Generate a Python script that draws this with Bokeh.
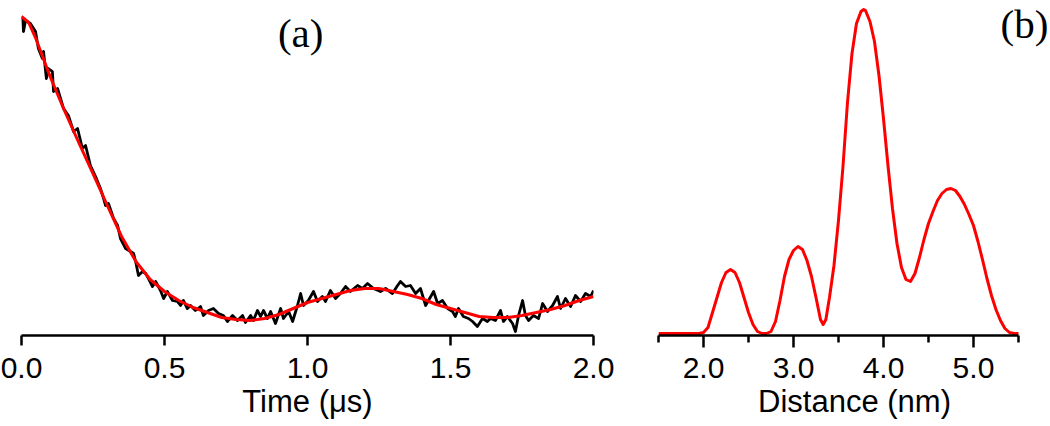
from bokeh.plotting import figure
from bokeh.layouts import row
from bokeh.models import Range1d, FixedTicker, Label, NumeralTickFormatter
from bokeh.embed import file_html
from bokeh.resources import INLINE

# ---- panel (a): time-domain trace (arbitrary units) ----
time_us = [0.000, 0.003, 0.007, 0.014, 0.031, 0.049, 0.059, 0.073, 0.077, 0.087,
           0.094, 0.108, 0.112, 0.126, 0.147, 0.164, 0.182, 0.196, 0.213, 0.224,
           0.241, 0.259, 0.276, 0.287, 0.294, 0.304, 0.322, 0.336, 0.346, 0.364,
           0.381, 0.392, 0.399, 0.409, 0.423, 0.434, 0.444, 0.458, 0.469, 0.486,
           0.497, 0.510, 0.528, 0.545, 0.556, 0.566, 0.580, 0.591, 0.608, 0.626,
           0.636, 0.654, 0.671, 0.689, 0.706, 0.720, 0.738, 0.755, 0.773, 0.783,
           0.801, 0.811, 0.825, 0.836, 0.846, 0.860, 0.871, 0.888, 0.906, 0.916,
           0.934, 0.948, 0.965, 0.976, 0.986, 1.003, 1.021, 1.035, 1.052, 1.063,
           1.080, 1.098, 1.115, 1.133, 1.150, 1.175, 1.192, 1.210, 1.231, 1.255,
           1.273, 1.297, 1.315, 1.325, 1.343, 1.360, 1.378, 1.395, 1.413, 1.423,
           1.441, 1.455, 1.472, 1.490, 1.507, 1.517, 1.528, 1.545, 1.563, 1.577,
           1.594, 1.612, 1.629, 1.640, 1.657, 1.675, 1.685, 1.699, 1.717, 1.727,
           1.738, 1.752, 1.762, 1.773, 1.790, 1.808, 1.822, 1.839, 1.857, 1.874,
           1.885, 1.902, 1.920, 1.937, 1.955, 1.972, 1.990, 2.000]
signal = [320, 318, 305, 316, 313, 305, 288, 278, 285, 258,
          268, 265, 245, 248, 228, 221, 205, 208, 188, 191,
          171, 160, 148, 138, 131, 133, 118, 111, 98, 88,
          85, 83, 75, 61, 65, 63, 58, 50, 55, 46,
          38, 45, 36, 35, 31, 36, 28, 31, 26, 30,
          21, 26, 28, 23, 21, 15, 21, 16, 21, 14,
          21, 16, 26, 20, 26, 18, 25, 13, 28, 18,
          25, 15, 31, 43, 31, 36, 45, 35, 40, 35,
          46, 38, 43, 50, 45, 51, 48, 53, 48, 45,
          48, 43, 51, 55, 50, 51, 43, 48, 31, 36,
          45, 33, 36, 28, 25, 20, 28, 20, 18, 15,
          10, 18, 15, 18, 16, 26, 15, 20, 13, 5,
          21, 36, 21, 16, 21, 18, 33, 25, 31, 40,
          28, 38, 30, 41, 35, 43, 40, 46]

fit_time_us = [0.000, 0.025, 0.05, 0.10, 0.15, 0.20, 0.25, 0.30, 0.35, 0.40, 0.45,
               0.50, 0.55, 0.60, 0.65, 0.70, 0.75, 0.80, 0.85, 0.90, 0.95,
               1.00, 1.05, 1.10, 1.15, 1.20, 1.25, 1.30, 1.35, 1.40, 1.45,
               1.50, 1.55, 1.60, 1.65, 1.70, 1.75, 1.80, 1.85, 1.90, 1.95, 2.00]
fit_signal = [320, 314, 298, 260, 226, 194, 163, 131, 100, 75, 57,
              45, 36, 29, 24, 19, 17, 16, 18, 22, 28,
              34, 38, 42, 46, 48, 48, 45, 42, 38, 32,
              28, 24, 20, 19, 19, 21, 24, 27, 31, 36, 40]

time_ticks = [0.0, 0.5, 1.0, 1.5, 2.0]

# ---- panel (b): distance distribution (arbitrary units) ----
distance_nm = [1.50, 1.55, 1.60, 1.65, 1.70, 1.75, 1.80, 1.85, 1.90, 1.95,
               2.00, 2.05, 2.10, 2.15, 2.20, 2.25, 2.30, 2.35, 2.40, 2.45,
               2.50, 2.55, 2.60, 2.65, 2.70, 2.75, 2.80, 2.85, 2.90, 2.95,
               3.00, 3.05, 3.10, 3.15, 3.20, 3.25, 3.30, 3.33, 3.36, 3.40,
               3.45, 3.50, 3.55, 3.60, 3.65, 3.70, 3.75, 3.78, 3.80, 3.85,
               3.90, 3.95, 4.00, 4.05, 4.10, 4.15, 4.20, 4.25, 4.30, 4.35,
               4.40, 4.45, 4.50, 4.55, 4.60, 4.65, 4.70, 4.75, 4.80, 4.85,
               4.90, 4.95, 5.00, 5.05, 5.10, 5.15, 5.20, 5.25, 5.30, 5.35,
               5.40, 5.45, 5.50]
probability = [0, 0, 0, 0, 0, 0, 0, 0, 0, 0,
               1, 6, 21, 36, 51, 61, 64, 61, 51, 36,
               21, 9, 2, 0, 0, 2, 12, 33, 57, 74,
               83, 87, 84, 73, 57, 36, 14, 9, 14, 36,
               68, 113, 167, 231, 280, 310, 322, 324, 323, 312,
               292, 258, 215, 168, 125, 90, 66, 54, 52, 60,
               76, 94, 110, 122, 133, 140, 144, 145, 143, 137,
               129, 119, 108, 92, 74, 55, 38, 24, 13, 5,
               1, 0, 0]

dist_ticks = [2.0, 3.0, 4.0, 5.0]
dist_minor_ticks = [1.5, 2.5, 3.5, 4.5, 5.5]

SANS = "Liberation Sans"
SERIF = "Liberation Serif"


def style_axis(p):
    p.outline_line_color = None
    p.xgrid.visible = False
    p.ygrid.visible = False
    ax = p.xaxis[0]
    ax.axis_line_width = 2.5
    ax.axis_line_color = "black"
    ax.major_tick_line_width = 2.5
    ax.major_tick_line_color = "black"
    ax.minor_tick_line_width = 2.5
    ax.minor_tick_line_color = "black"
    ax.major_tick_in = 0
    ax.minor_tick_in = 0
    ax.major_label_text_font = SANS
    ax.major_label_text_font_size = "30px"
    ax.major_label_text_color = "black"
    ax.axis_label_text_font = SANS
    ax.axis_label_text_font_size = "31px"
    ax.axis_label_text_font_style = "normal"
    ax.axis_label_text_color = "black"
    ax.formatter = NumeralTickFormatter(format="0.0")


pa = figure(width=625, height=426, x_range=Range1d(0, 2.0), y_range=Range1d(1, 336),
            output_backend="svg", toolbar_location=None, y_axis_location=None,
            min_border_left=21, min_border_right=32, min_border_top=0, min_border_bottom=91)
style_axis(pa)
pa.xaxis.ticker = FixedTicker(ticks=time_ticks)
pa.xaxis.major_tick_out = 10
pa.xaxis.minor_tick_out = 0
pa.xaxis.major_label_standoff = 12
pa.xaxis.axis_label = "Time (μs)"
pa.xaxis.axis_label_standoff = 3
pa.line(time_us, signal, line_color="black", line_width=2.8, line_join="round")
pa.line(fit_time_us, fit_signal, line_color="#ff0000", line_width=3, line_join="round")
pa.add_layout(Label(x=0.976, y=327, text="(a)", text_font=SERIF, text_font_size="41px",
                    text_align="center", text_baseline="top", text_color="black"))

pb = figure(width=425, height=426, x_range=Range1d(1.5, 5.856), y_range=Range1d(-2, 333),
            output_backend="svg", toolbar_location=None, y_axis_location=None,
            min_border_left=33, min_border_right=0, min_border_top=0, min_border_bottom=91)
style_axis(pb)
pb.xaxis.ticker = FixedTicker(ticks=dist_ticks, minor_ticks=dist_minor_ticks)
pb.xaxis.bounds = (dist_minor_ticks[0], dist_minor_ticks[-1])
pb.xaxis.major_tick_out = 12
pb.xaxis.minor_tick_out = 7
pb.xaxis.major_label_standoff = 10
pb.xaxis.axis_label = "Distance (nm)"
pb.xaxis.axis_label_standoff = 3
pb.line(distance_nm, probability, line_color="#ff0000", line_width=3, line_join="round")
pb.add_layout(Label(x=5.567, y=333, text="(b)", text_font=SERIF, text_font_size="41px",
                    text_align="center", text_baseline="top", text_color="black"))

layout = row(pa, pb)
open("out.html", "w").write(file_html(layout, INLINE))
